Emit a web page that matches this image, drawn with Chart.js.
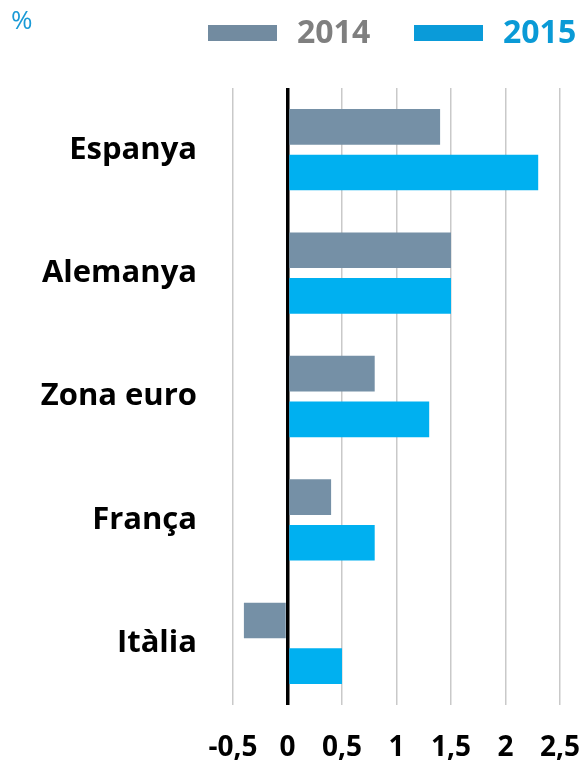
<!DOCTYPE html>
<html>
<head>
<meta charset="utf-8">
<script src="https://cdn.jsdelivr.net/npm/chart.js@4"></script>
<style>
	html, body { margin: 0; padding: 0; background: #fff; }
	#wrap { width: 583px; height: 761px; }
</style>
</head>
<body>
<div id="wrap"><canvas id="barChart" width="583" height="761"></canvas></div>
<script>
// Dades del gràfic
const countries = ['Espanya', 'Alemanya', 'Zona euro', 'França', 'Itàlia'];
const years = ['2014', '2015'];
const values2014 = [1.4, 1.5, 0.8, 0.4, -0.4];
const values2015 = [2.3, 1.5, 1.3, 0.8, 0.5];
const xTicks = [-0.5, 0, 0.5, 1, 1.5, 2, 2.5];

const FONT = "'Open Sans', 'DejaVu Sans', sans-serif";

// "%" i llegenda a dalt (dibuixats a mà)
const topTexts = {
	id: 'topTexts',
	afterDraw(chart) {
		const c = chart.ctx;
		c.save();
		c.font = '26px ' + FONT;
		c.fillStyle = '#1a9ad6';
		c.textBaseline = 'middle';
		c.textAlign = 'left';
		c.fillText('%', 11, 22);

		const boxColors = ['#728ba0', '#0a9bd9'];
		const textColors = ['#7f7f7f', '#0a9ad6'];
		const boxX = [208, 414];
		c.font = 'bold 32px ' + FONT;
		years.forEach((y, i) => {
			c.fillStyle = boxColors[i];
			c.fillRect(boxX[i], 25, 69, 16);
			c.fillStyle = textColors[i];
			c.fillText(y, boxX[i] + 89, 34);
		});
		c.restore();
	},
};

const ctx = document.getElementById('barChart').getContext('2d');

new Chart(ctx, {
	type: 'bar',
	data: {
		labels: countries,
		datasets: [
			{
				label: years[0],
				data: values2014,
				backgroundColor: '#7590a6',
				categoryPercentage: 0.74,
				barPercentage: 0.78,
			},
			{
				label: years[1],
				data: values2015,
				backgroundColor: '#00b0f0',
				categoryPercentage: 0.74,
				barPercentage: 0.78,
			},
		],
	},
	options: {
		indexAxis: 'y',
		responsive: false,
		animation: false,
		layout: {
			padding: { top: 88, right: 0, bottom: 0, left: 0 },
		},
		plugins: {
			tooltip: { enabled: false },
			legend: { display: false },
		},
		scales: {
			x: {
				min: -0.5,
				max: 2.5,
				afterBuildTicks(scale) {
					scale.ticks = xTicks.map((v) => ({ value: v }));
				},
				afterFit(scale) {
					scale.height = 56;
					scale.paddingLeft = 0;
					scale.paddingRight = 23;
				},
				border: { display: false },
				grid: {
					drawTicks: false,
					color: (c) => (c.tick && c.tick.value === 0 ? '#000000' : '#c9c9c9'),
					lineWidth: (c) => (c.tick && c.tick.value === 0 ? 3.5 : 1.5),
				},
				ticks: {
					padding: 26,
					maxRotation: 0,
					minRotation: 0,
					autoSkip: false,
					color: '#000',
					font: { family: FONT, size: 28, weight: 'bold' },
					callback: (v) => String(v).replace('.', ','),
				},
			},
			y: {
				afterFit(scale) {
					scale.width = 233;
				},
				border: { display: false },
				grid: { display: false, drawTicks: false },
				ticks: {
					padding: 36,
					color: '#000',
					font: { family: FONT, size: 31, weight: 'bold' },
				},
			},
		},
	},
	plugins: [topTexts],
});
</script>
</body>
</html>
